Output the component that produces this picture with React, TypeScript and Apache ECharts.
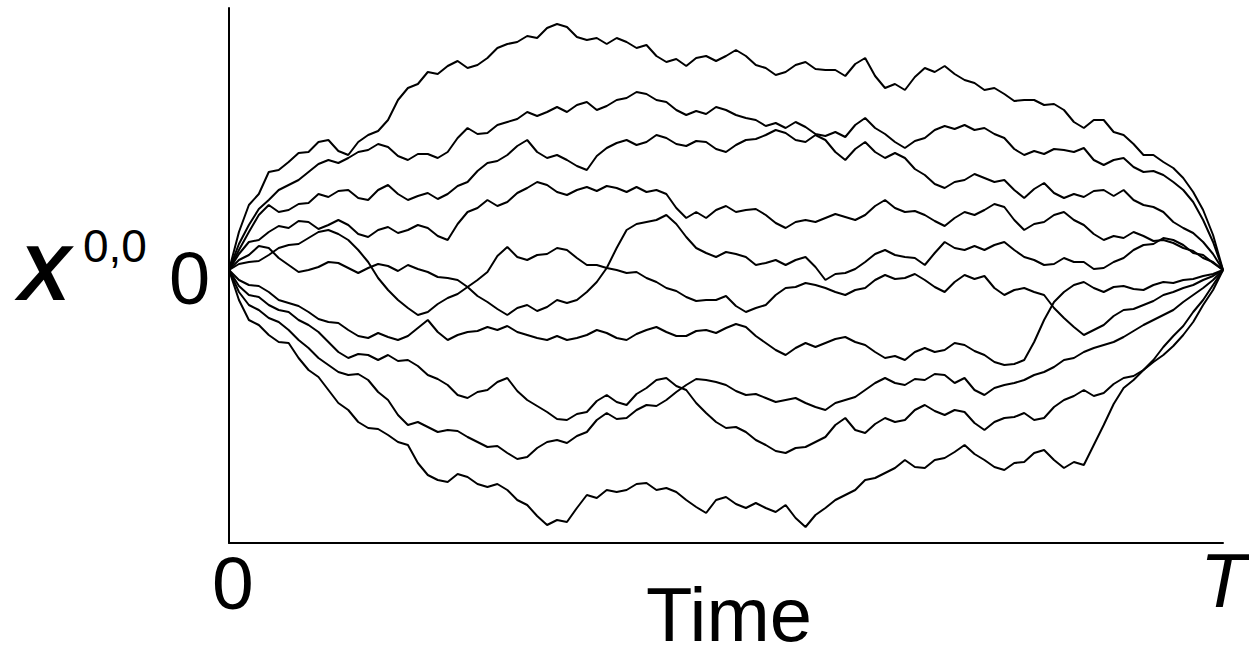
import React, { useEffect, useRef } from "react";
import * as echarts from "echarts";

// Brownian bridge paths X^{0,0}: 101 samples each, equally spaced in time from 0 to T
const pathA = [0,38,65,76,98,100,108,117,118,128,130,119,115,128,135,139,150,170,182,186,198,196,204,209,202,205,212,222,226,228,234,232,242,246,243,233,230,232,226,232,228,222,225,214,208,211,204,212,214,209,214,220,214,205,202,195,198,205,208,201,200,200,194,206,212,194,182,186,180,193,202,198,204,196,190,187,180,182,176,169,170,170,165,166,160,148,142,150,150,138,135,126,115,115,108,102,92,78,60,35,0];
const pathB = [0,26,45,61,70,80,85,90,98,106,110,107,112,118,120,126,123,114,110,116,116,112,118,132,142,136,137,145,148,151,158,154,158,163,158,165,168,160,164,170,172,178,176,170,168,160,155,159,156,163,160,155,152,150,144,147,142,148,143,136,134,138,133,145,152,142,136,128,122,129,132,140,144,141,145,140,142,136,132,121,115,119,116,121,120,118,122,110,105,110,112,103,98,99,95,88,80,68,50,28,0];
const pathC = [0,20,38,55,65,58,60,66,67,76,73,79,80,72,70,80,85,76,70,74,77,71,76,84,88,99,107,109,115,124,130,118,112,115,110,104,100,114,122,127,130,125,128,135,132,126,124,129,128,121,118,125,130,131,135,140,137,130,128,135,130,118,110,121,128,118,112,117,112,101,95,86,82,88,90,96,92,88,90,80,72,81,87,77,72,76,73,79,80,74,80,70,65,63,58,48,42,37,28,16,0];
const pathD = [0,16,28,30,38,44,42,49,48,41,45,50,45,36,33,40,43,37,40,45,42,34,30,46,58,62,70,64,68,77,82,88,85,78,75,80,83,79,84,82,78,83,78,80,76,62,52,58,52,60,64,58,60,61,55,47,42,48,50,48,52,56,53,50,55,64,70,62,58,59,55,49,44,52,58,55,60,66,63,50,40,46,48,55,58,50,45,36,30,34,32,38,34,29,30,27,22,19,12,8,0];
const pathE = [0,10,15,24,22,12,5,-2,0,3,8,7,2,-3,2,6,4,-1,5,1,-2,-7,-8,-10,-17,-26,-32,-39,-45,-38,-35,-41,-37,-30,-33,-30,-22,-12,2,22,40,46,48,50,55,46,33,22,17,13,18,16,13,5,7,10,5,10,13,3,-10,-4,-3,1,8,16,20,15,13,12,5,17,28,22,20,24,20,25,28,20,13,10,5,6,12,8,8,1,2,8,12,20,25,26,32,30,25,17,15,7,0];
const pathF = [0,6,8,9,15,22,25,26,32,38,40,36,30,20,8,-8,-20,-30,-38,-45,-42,-34,-28,-24,-17,-10,-2,14,23,13,10,15,16,22,20,12,5,5,2,0,-3,-2,-8,-12,-18,-21,-27,-31,-30,-30,-26,-36,-42,-38,-35,-25,-18,-17,-13,-15,-18,-22,-25,-20,-18,-10,-5,-9,-8,-4,-10,-17,-22,-12,-5,-9,-6,-18,-25,-20,-18,-22,-25,-38,-48,-57,-65,-60,-55,-46,-40,-39,-35,-31,-25,-22,-18,-15,-10,-6,0];
const pathG = [0,-10,-15,-16,-22,-30,-33,-36,-42,-49,-52,-53,-60,-66,-68,-63,-67,-70,-66,-58,-50,-62,-70,-65,-62,-61,-57,-60,-56,-62,-65,-68,-70,-66,-70,-68,-65,-60,-63,-68,-70,-64,-60,-57,-62,-66,-66,-61,-60,-63,-58,-54,-57,-66,-73,-80,-85,-78,-73,-77,-73,-69,-67,-72,-75,-82,-88,-86,-90,-82,-78,-82,-80,-73,-75,-81,-85,-92,-95,-94,-90,-72,-50,-32,-22,-15,-12,-18,-22,-17,-16,-19,-20,-15,-12,-13,-10,-9,-6,-4,0];
const pathH = [0,-16,-25,-27,-35,-40,-42,-50,-55,-62,-72,-82,-88,-84,-85,-90,-85,-91,-90,-96,-105,-109,-115,-125,-128,-122,-120,-112,-108,-121,-130,-136,-142,-149,-150,-144,-142,-131,-125,-132,-135,-124,-118,-110,-108,-116,-120,-133,-143,-152,-158,-157,-162,-170,-175,-181,-183,-178,-177,-172,-167,-155,-148,-160,-163,-154,-148,-152,-150,-140,-135,-141,-145,-140,-142,-153,-160,-152,-148,-147,-143,-150,-148,-137,-130,-126,-120,-126,-123,-114,-108,-106,-100,-92,-85,-76,-65,-52,-35,-20,0];
const pathI = [0,-22,-35,-40,-48,-52,-60,-70,-78,-88,-95,-102,-105,-104,-110,-122,-130,-145,-155,-152,-157,-162,-160,-161,-167,-172,-177,-176,-183,-189,-187,-178,-172,-170,-173,-166,-162,-150,-143,-149,-148,-140,-135,-136,-130,-122,-115,-109,-110,-112,-115,-121,-125,-124,-128,-132,-130,-128,-133,-137,-140,-133,-130,-127,-120,-113,-108,-113,-115,-109,-110,-104,-105,-113,-108,-120,-125,-118,-115,-113,-110,-105,-102,-97,-90,-88,-82,-78,-75,-72,-67,-61,-55,-50,-45,-40,-32,-25,-18,-10,0];
const pathJ = [0,-30,-50,-55,-65,-72,-73,-88,-100,-107,-120,-133,-140,-152,-158,-159,-165,-172,-175,-193,-205,-210,-212,-204,-207,-214,-217,-214,-220,-230,-235,-246,-255,-250,-252,-238,-225,-228,-220,-222,-220,-214,-213,-220,-218,-222,-230,-237,-243,-230,-227,-234,-238,-233,-238,-242,-235,-248,-257,-245,-238,-230,-225,-220,-210,-208,-203,-198,-190,-197,-198,-190,-188,-182,-175,-184,-190,-197,-200,-193,-192,-183,-180,-190,-198,-192,-195,-175,-155,-134,-118,-110,-100,-90,-77,-66,-56,-42,-30,-15,0];

const paths = [pathA, pathB, pathC, pathD, pathE, pathF, pathG, pathH, pathI, pathJ];
const timeCategories = pathA.map((_, i) => String(i));

const yMin = -273;
const yMax = 262;

const FONT = "'Liberation Sans', Arial, sans-serif";

export default function App() {
  const ref = useRef<HTMLDivElement>(null);
  useEffect(() => {
    if (!ref.current) return;
    const chart = echarts.init(ref.current, undefined, { renderer: "svg" });
    chart.setOption({
      animation: false,
      backgroundColor: "#ffffff",
      grid: { left: 229, right: 26, top: 8, bottom: 115, containLabel: false },
      xAxis: {
        type: "category",
        data: timeCategories,
        boundaryGap: false,
        axisLine: { show: true, onZero: false, lineStyle: { color: "#000", width: 2 } },
        axisTick: { show: false },
        axisLabel: { show: false },
        splitLine: { show: false },
      },
      yAxis: {
        type: "value",
        min: yMin,
        max: yMax,
        axisLine: { show: true, lineStyle: { color: "#000", width: 2 } },
        axisTick: { show: false },
        axisLabel: { show: false },
        splitLine: { show: false },
      },
      series: paths.map((p, k) => ({
        name: "path" + k,
        type: "line",
        data: p,
        showSymbol: false,
        symbol: "none",
        smooth: false,
        lineStyle: { color: "#000", width: 2 },
        silent: true,
      })),
      graphic: [
        {
          type: "text",
          left: 18,
          top: 234,
          style: { text: "X", font: `italic bold 78px ${FONT}`, fill: "#000" },
        },
        {
          type: "text",
          left: 83,
          top: 223,
          style: { text: "0,0", font: `46px ${FONT}`, fill: "#000" },
        },
        {
          type: "text",
          left: 169,
          top: 241,
          style: { text: "0", font: `74px ${FONT}`, fill: "#000" },
        },
        {
          type: "text",
          left: 212,
          top: 545,
          style: { text: "0", font: `75px ${FONT}`, fill: "#000" },
        },
        {
          type: "text",
          left: 646,
          top: 576,
          style: { text: "Time", font: `76px ${FONT}`, fill: "#000" },
        },
        {
          type: "text",
          left: 1200,
          top: 542,
          style: { text: "T", font: `italic 76px ${FONT}`, fill: "#000" },
        },
      ],
    });
    return () => chart.dispose();
  }, []);
  return (
    <div
      ref={ref}
      style={{ position: "absolute", left: 0, top: 0, width: 1249, height: 658, background: "#fff" }}
    />
  );
}
